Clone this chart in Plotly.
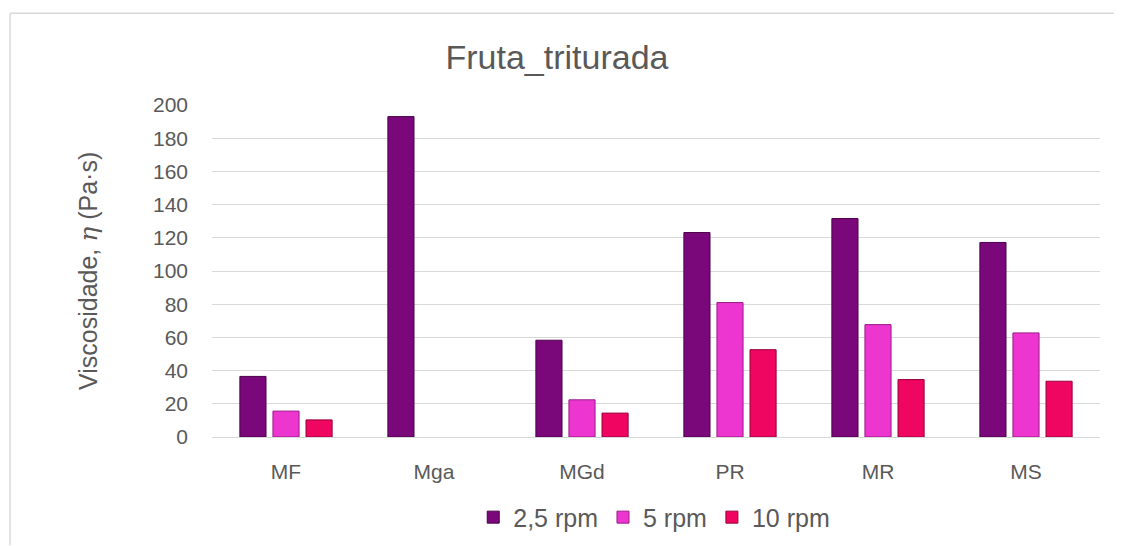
import plotly.graph_objects as go

categories = ["MF", "Mga", "MGd", "PR", "MR", "MS"]
series_names = ["2,5 rpm", "5 rpm", "10 rpm"]
v_2_5 = [36.5, 193.0, 58.3, 123.2, 131.6, 117.2]
v_5 = [15.6, None, 22.4, 81.0, 67.7, 62.7]
v_10 = [10.3, None, 14.4, 52.6, 34.6, 33.6]
y_ticks = [0, 20, 40, 60, 80, 100, 120, 140, 160, 180, 200]

colors = ["#7A087A", "#EC36CF", "#EE0660"]
edges = ["#4A004A", "#9A1A88", "#99003C"]

fig = go.Figure()
for name, vals, c, e in zip(series_names, [v_2_5, v_5, v_10], colors, edges):
    fig.add_trace(go.Bar(
        x=categories, y=vals, name=name,
        marker=dict(color=c, line=dict(color=e, width=1)),
    ))

grey = "#595959"
W, H = 1114, 538          # page body has an 8px margin
L, T = 204, 97
PW, PH = 888, 332.5
B = H - T - PH
def px(x):  # figure px -> paper x
    return (x - L) / PW
def py(y):  # figure px -> paper y
    return (T + PH - y) / PH

fig.update_layout(
    width=W, height=H,
    paper_bgcolor="white", plot_bgcolor="white",
    margin=dict(l=L, r=W - L - PW, t=T, b=B, pad=0, autoexpand=False),
    barmode="group", bargap=0.33, bargroupgap=0.21,
    font=dict(family="Liberation Sans, Arial, sans-serif", size=21, color=grey),
    title=dict(text="Fruta_triturada", x=549 / W, xref="container", xanchor="center",
               y=1 - 49 / H, yref="container", yanchor="middle",
               font=dict(size=34, color=grey)),
    showlegend=True,
    legend=dict(orientation="h", x=0.498, xanchor="center", xref="paper",
                y=py(510), yanchor="middle", font=dict(size=25, color=grey),
                itemwidth=30, tracegroupgap=0, traceorder="normal"),
    xaxis=dict(showgrid=False, showline=True, linecolor="#D9D9D9", linewidth=1,
               ticks="", tickfont=dict(size=21, color=grey), ticklabelstandoff=16,
               automargin=False),
    yaxis=dict(range=[0, 200], tickvals=y_ticks, showgrid=True, gridcolor="#D9D9D9",
               gridwidth=1, zeroline=False, showline=False, ticks="",
               tickfont=dict(size=21, color=grey), ticklabelstandoff=23,
               automargin=False),
    shapes=[
        dict(type="line", xref="paper", yref="paper", x0=px(2), x1=px(W),
             y0=py(5), y1=py(5), line=dict(color="#D9D9D9", width=1.5)),
        dict(type="line", xref="paper", yref="paper", x0=px(2), x1=px(2),
             y0=py(5), y1=py(H), line=dict(color="#D9D9D9", width=1.5)),
    ],
    annotations=[
        dict(text="Viscosidade, <i><span style='font-family:DejaVu Serif'>η</span></i> (Pa·s)",
             textangle=-90, xref="paper", yref="paper", x=px(80), y=0.5,
             xanchor="center", yanchor="middle", showarrow=False,
             font=dict(size=25, color=grey)),
    ],
)

fig.write_html("out.html")
